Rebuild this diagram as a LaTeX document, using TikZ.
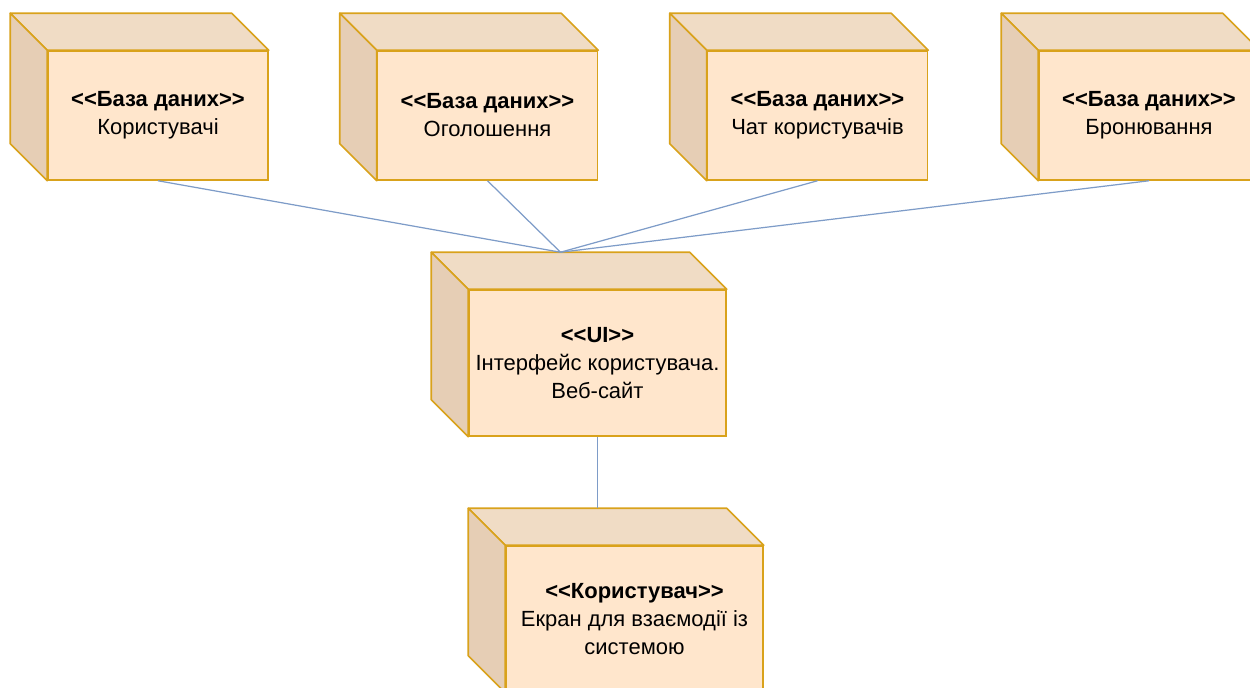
\documentclass[tikz,border=0pt]{standalone}
\usepackage{fontspec}
\newfontfamily\uifont{Liberation Sans}
\definecolor{boxfill}{HTML}{FFE6CC}
\definecolor{boxtop}{HTML}{F0DCC5}
\definecolor{boxside}{HTML}{E6CEB5}
\definecolor{boxline}{HTML}{D9A21B}
\definecolor{linkline}{HTML}{7E9CC8}
\tikzset{
    frontface/.style={draw=boxline,fill=boxfill,line width=0.9pt,align=center,
        font=\uifont\fontsize{12.5}{15.9}\selectfont,inner sep=0pt},
    dbbox/.style={frontface,minimum width=4.4cm,minimum height=2.58cm},
    bigbox/.style={frontface,minimum width=5.14cm,minimum height=2.92cm},
    topface/.style={draw=boxline,fill=boxtop,line width=0.9pt,line join=round},
    sideface/.style={draw=boxline,fill=boxside,line width=0.9pt,line join=round},
    link/.style={draw=linkline,line width=0.7pt}
}
% top and left faces of a node box
\newcommand{\cubefaces}[1]{
    \path[topface] (#1.north west) -- ([shift={(-37,-37)}]#1.north west)
        -- ([shift={(-37,-37)}]#1.north east) -- (#1.north east) -- cycle;
    \path[sideface] (#1.north west) -- ([shift={(-37,-37)}]#1.north west)
        -- ([shift={(-37,-37)}]#1.south west) -- (#1.south west) -- cycle;
}
\begin{document}
\begin{tikzpicture}[x=0.02cm,y=-0.02cm]
    \useasboundingbox (0,0) rectangle (1250,688);
    % databases
    \node[dbbox] (users) at (158,115.5) {\textbf{<<База даних>>}\\Користувачі};
    \node[dbbox] (ads) at (487.5,115.5) {\textbf{<<База даних>>}\\Оголошення};
    \node[dbbox] (chat) at (817.5,115.5) {\textbf{<<База даних>>}\\Чат користувачів};
    \node[dbbox] (booking) at (1149,115.5) {\textbf{<<База даних>>}\\Бронювання};
    % interface and user screen
    \node[bigbox] (ui) at (597.5,363) {\textbf{<<UI>>}\\Інтерфейс користувача.\\Веб-сайт};
    \node[bigbox] (screen) at (634.5,619) {\textbf{<<Користувач>>}\\Екран для взаємодії із\\системою};
    \cubefaces{users}
    \cubefaces{ads}
    \cubefaces{chat}
    \cubefaces{booking}
    \cubefaces{ui}
    \cubefaces{screen}
    \coordinate (uitop) at ([shift={(-37,-37)}]ui.north);
    \coordinate (screentop) at ([shift={(-37,-37)}]screen.north);
    % links
    \draw[link] (users.south) -- (uitop);
    \draw[link] (ads.south) -- (uitop);
    \draw[link] (chat.south) -- (uitop);
    \draw[link] (booking.south) -- (uitop);
    \draw[link] (ui.south) -- (screentop);
\end{tikzpicture}
\end{document}
